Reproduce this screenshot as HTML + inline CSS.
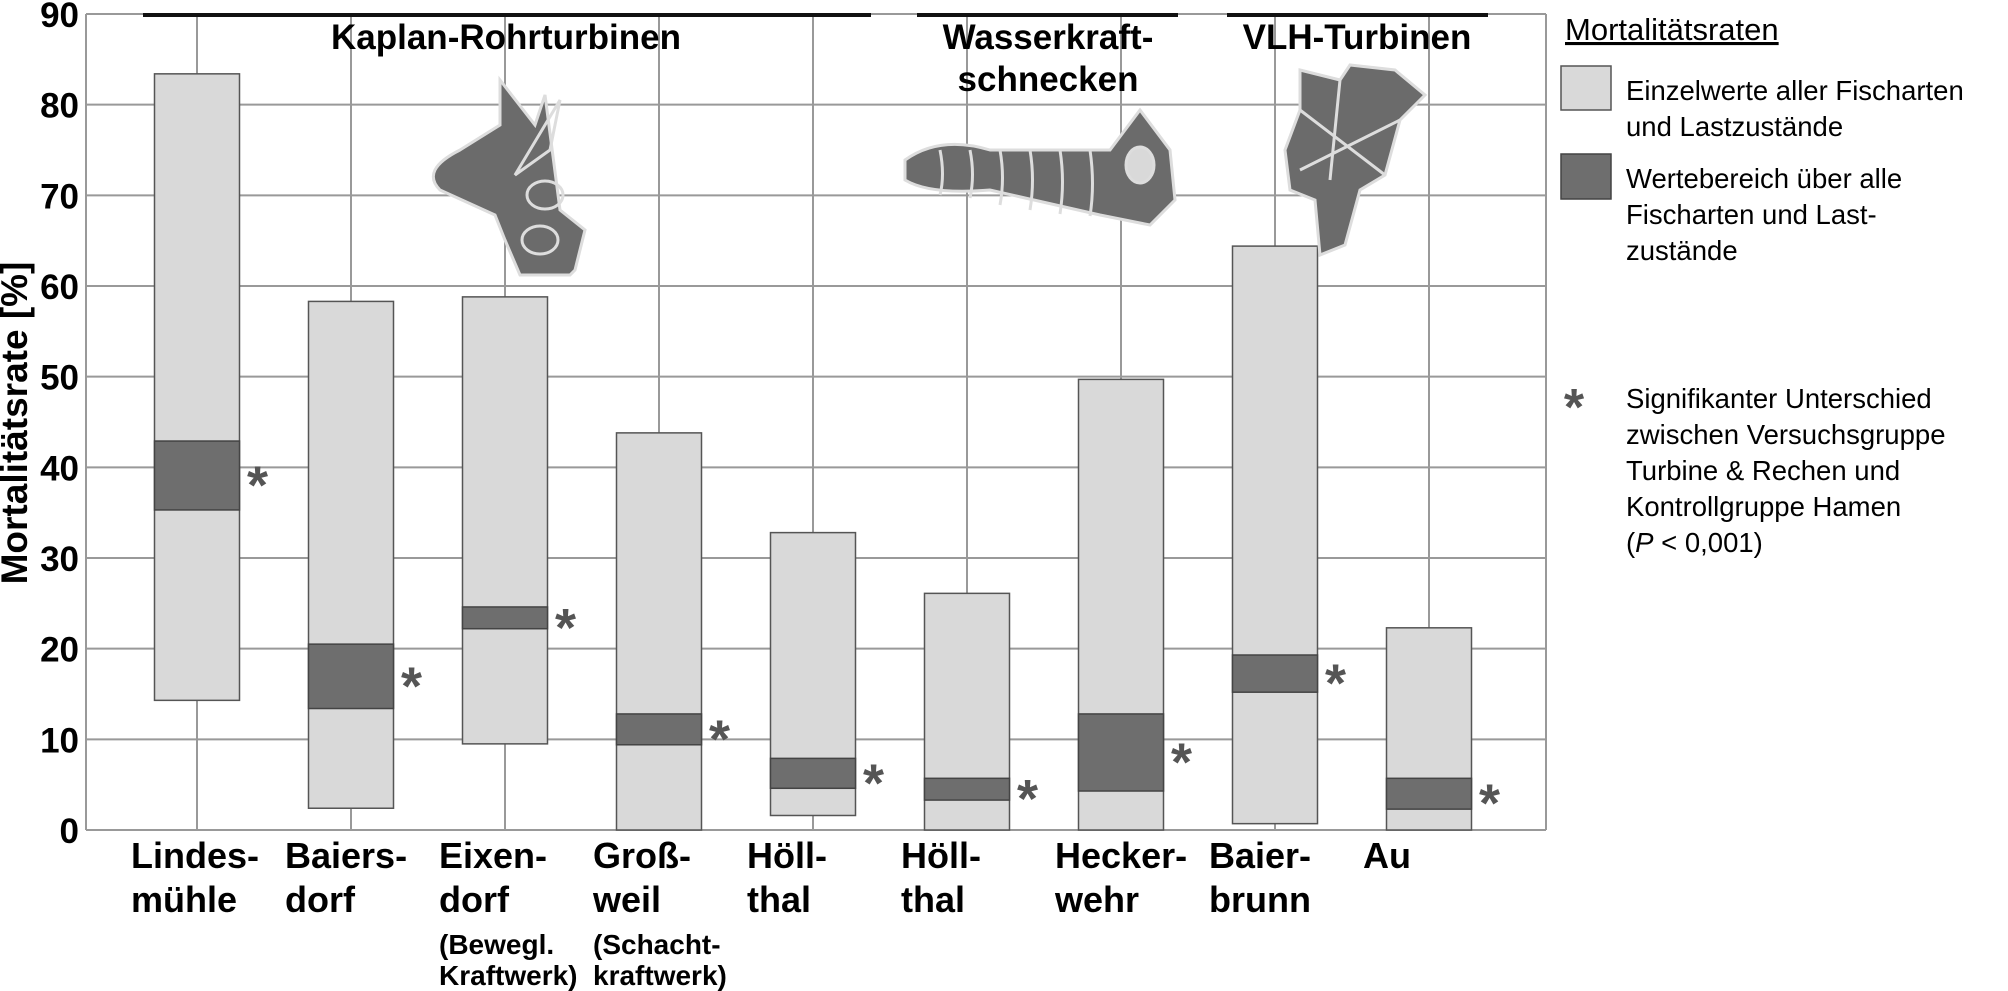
<!DOCTYPE html>
<html><head><meta charset="utf-8"><style>
html,body{margin:0;padding:0;background:#fff;}
svg{display:block;font-family:"Liberation Sans",sans-serif;}
</style></head><body>
<svg id="chart" width="2008" height="991" viewBox="0 0 2008 991">
<g id="grid"></g>
<g id="bars"></g>
<g id="ylabels"></g>
<g id="xlabels"></g>
<text transform="translate(27,423) rotate(-90)" text-anchor="middle" font-size="37" font-weight="bold">Mortalitätsrate [%]</text>

<g>
<line x1="143" y1="15" x2="871" y2="15" stroke="#111" stroke-width="4"/>
<line x1="917" y1="15" x2="1178" y2="15" stroke="#111" stroke-width="4"/>
<line x1="1227" y1="15" x2="1488" y2="15" stroke="#111" stroke-width="4"/>
<text x="506" y="49" text-anchor="middle" font-size="35" font-weight="bold">Kaplan-Rohrturbinen</text>
<text x="1048" y="49" text-anchor="middle" font-size="35" font-weight="bold">Wasserkraft-</text>
<text x="1048" y="91" text-anchor="middle" font-size="35" font-weight="bold">schnecken</text>
<text x="1357" y="49" text-anchor="middle" font-size="35" font-weight="bold">VLH-Turbinen</text>
</g>

<g fill="#6b6b6b" stroke="#ddd" stroke-width="3">
<path d="M500 80 L535 125 L545 95 L560 210 L585 230 L575 270 L570 275 L520 275 L505 240 L495 215 L440 190 Q420 170 460 150 L500 125 Z"/>
<path d="M515 175 L560 100 L550 150 Z" fill="none"/>
<ellipse cx="545" cy="195" rx="18" ry="14" fill="none"/>
<ellipse cx="540" cy="240" rx="18" ry="14" fill="none"/>
</g>
<g fill="#6b6b6b" stroke="#ddd" stroke-width="3">
<path d="M905 160 Q940 135 990 150 L1110 150 L1140 110 L1170 150 L1175 200 L1150 225 L1100 215 L990 190 Q930 195 905 180 Z"/>
<g fill="none"><path d="M940 150 Q945 175 940 195"/><path d="M970 150 Q975 175 970 198"/><path d="M1000 150 Q1005 178 1000 205"/><path d="M1030 150 Q1035 180 1030 210"/><path d="M1060 150 Q1065 182 1060 214"/><path d="M1090 150 Q1095 184 1090 216"/></g>
<ellipse cx="1140" cy="165" rx="14" ry="18" fill="#d9d9d9"/>
</g>
<g fill="#6b6b6b" stroke="#ddd" stroke-width="3">
<path d="M1300 70 L1340 80 L1350 65 L1395 70 L1425 95 L1400 120 L1385 175 L1360 190 L1345 245 L1320 255 L1315 200 L1290 190 L1285 150 L1300 110 Z"/>
<path d="M1300 110 L1385 175 M1340 80 L1330 180 M1300 170 L1400 120" fill="none"/>
</g>

<g font-size="27.5">
<text x="1565" y="40" font-size="31" text-decoration="underline">Mortalitätsraten</text>
<rect x="1561" y="66" width="50" height="44" fill="#d9d9d9" stroke="#555" stroke-width="1.5"/>
<text x="1626" y="100">Einzelwerte aller Fischarten<tspan x="1626" dy="36">und Lastzustände</tspan></text>
<rect x="1561" y="154" width="50" height="45" fill="#6e6e6e" stroke="#444" stroke-width="1.5"/>
<text x="1626" y="188">Wertebereich über alle<tspan x="1626" dy="36">Fischarten und Last-</tspan><tspan x="1626" dy="36">zustände</tspan></text>
<text x="1574" y="425" font-size="52" fill="#555" text-anchor="middle" font-weight="bold">*</text>
<text x="1626" y="408">Signifikanter Unterschied<tspan x="1626" dy="36">zwischen Versuchsgruppe</tspan><tspan x="1626" dy="36">Turbine &amp; Rechen und</tspan><tspan x="1626" dy="36">Kontrollgruppe Hamen</tspan><tspan x="1626" dy="36">(<tspan font-style="italic">P</tspan> &lt; 0,001)</tspan></text>
</g>
</svg>
<script>
const categories = ["Lindesmühle","Baiersdorf","Eixendorf","Großweil","Höllthal (Kaplan)","Höllthal (Schnecke)","Heckerwehr","Baierbrunn","Au"];
const labelLines = [["Lindes-","mühle"],["Baiers-","dorf"],["Eixen-","dorf","(Bewegl.","Kraftwerk)"],["Groß-","weil","(Schacht-","kraftwerk)"],["Höll-","thal"],["Höll-","thal"],["Hecker-","wehr"],["Baier-","brunn"],["Au"]];
const lightMin = [14.3, 2.4, 9.5, 0, 1.6, 0, 0, 0.7, 0];
const lightMax = [83.4, 58.3, 58.8, 43.8, 32.8, 26.1, 49.7, 64.4, 22.3];
const darkMin = [35.3, 13.4, 22.2, 9.4, 4.6, 3.3, 4.3, 15.2, 2.3];
const darkMax = [42.9, 20.5, 24.6, 12.8, 7.9, 5.7, 12.8, 19.3, 5.7];
const yTicks = [0,10,20,30,40,50,60,70,80,90];

const NS="http://www.w3.org/2000/svg";
const X0=86, X1=1546, Y0=830, Y90=14;
const y = v => Y0 - (v/90)*(Y0-Y90);
const step = 154;
const x = i => 197 + i*step;
const BW = 85;
function mk(tag, attrs, parent){const e=document.createElementNS(NS,tag);for(const k in attrs)e.setAttribute(k,attrs[k]);parent.appendChild(e);return e;}
const grid=document.getElementById('grid'), bars=document.getElementById('bars'), yl=document.getElementById('ylabels'), xl=document.getElementById('xlabels');

yTicks.forEach(t=>{
  const l=mk('line',{x1:X0,x2:X1,y1:y(t),y2:y(t),stroke:'#999','stroke-width':2},grid);
  
  
  const tx=mk('text',{x:79,y:y(t)+13,'text-anchor':'end','font-size':35,'font-weight':'bold'},yl);
  tx.textContent=t;
  
  
});
[X0,X1].forEach((gx,k)=>{
  const l=mk('line',{x1:gx,x2:gx,y1:Y90,y2:Y0,stroke:'#999','stroke-width':2},grid);
  
  
});
categories.forEach((c,i)=>{
  const l=mk('line',{x1:x(i),x2:x(i),y1:Y90,y2:Y0,stroke:'#999','stroke-width':2},grid);
  
  
  const r1=mk('rect',{x:x(i)-BW/2,y:y(lightMax[i]),width:BW,height:y(lightMin[i])-y(lightMax[i]),fill:'#d9d9d9',stroke:'#555','stroke-width':1.5},bars);
  
  
  const r2=mk('rect',{x:x(i)-BW/2,y:y(darkMax[i]),width:BW,height:y(darkMin[i])-y(darkMax[i]),fill:'#6e6e6e',stroke:'#444','stroke-width':1.5},bars);
  
  
  const s=mk('text',{x:x(i)+BW/2+18,y:y((darkMin[i]+darkMax[i])/2)+28,'font-size':54,'font-weight':'bold',fill:'#555','text-anchor':'middle'},bars);
  s.textContent='*';
  
  
  const t=mk('text',{x:x(i)-64,y:867,'font-weight':'bold'},xl);
  
  
  const ys=[868,912,954,985];
  labelLines[i].forEach((ln,j)=>{
    const sp=mk('tspan',{x:x(i)-66,y:ys[j],'font-size':j<2?36:28},t);
    sp.textContent=ln;
  });
});
</script>
</body></html>
